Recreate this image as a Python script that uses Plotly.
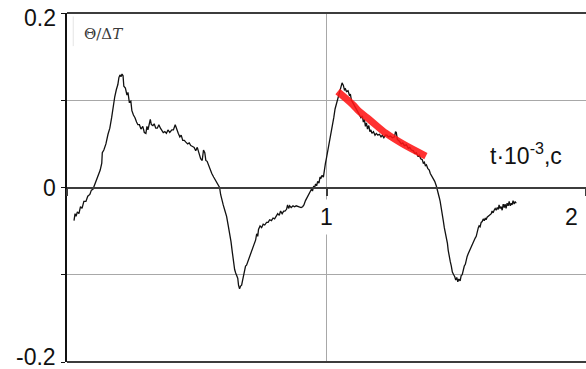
import plotly.graph_objects as go

# ---- data ----
t = [0.027, 0.031, 0.035, 0.040, 0.046, 0.052, 0.058, 0.065, 0.073, 0.080, 0.088, 0.094, 0.100,
     0.108, 0.115, 0.123, 0.128, 0.134, 0.136, 0.142, 0.150, 0.158, 0.165, 0.172, 0.178, 0.184,
     0.190, 0.196, 0.200, 0.204, 0.208, 0.212, 0.216, 0.219, 0.225, 0.231, 0.235, 0.240, 0.246,
     0.250, 0.256, 0.262, 0.268, 0.273, 0.279, 0.285, 0.292, 0.298, 0.304, 0.308, 0.312, 0.317,
     0.321, 0.325, 0.331, 0.336, 0.342, 0.348, 0.354, 0.360, 0.365, 0.371, 0.377, 0.383, 0.389,
     0.396, 0.404, 0.410, 0.417, 0.423, 0.429, 0.435, 0.440, 0.446, 0.452, 0.458, 0.465, 0.471,
     0.477, 0.484, 0.490, 0.496, 0.502, 0.508, 0.515, 0.521, 0.526, 0.531, 0.535, 0.540, 0.546,
     0.552, 0.558, 0.565, 0.571, 0.577, 0.583, 0.588, 0.592, 0.596, 0.602, 0.608, 0.615, 0.621,
     0.627, 0.632, 0.637, 0.642, 0.646, 0.650, 0.654, 0.658, 0.661, 0.665, 0.669, 0.673, 0.677,
     0.683, 0.688, 0.692, 0.698, 0.704, 0.710, 0.715, 0.721, 0.727, 0.731, 0.735, 0.738, 0.744,
     0.750, 0.756, 0.762, 0.769, 0.775, 0.781, 0.788, 0.794, 0.800, 0.806, 0.812, 0.818, 0.823,
     0.829, 0.835, 0.840, 0.846, 0.850, 0.854, 0.858, 0.864, 0.871, 0.877, 0.883, 0.890, 0.896,
     0.902, 0.908, 0.913, 0.919, 0.925, 0.931, 0.937, 0.942, 0.946, 0.950, 0.954, 0.958, 0.962,
     0.966, 0.971, 0.975, 0.979, 0.983, 0.988, 0.992, 0.996, 1.000, 1.004, 1.010, 1.015, 1.019,
     1.023, 1.028, 1.033, 1.038, 1.042, 1.048, 1.054, 1.060, 1.065, 1.069, 1.073, 1.077, 1.083,
     1.088, 1.092, 1.096, 1.102, 1.108, 1.115, 1.121, 1.127, 1.133, 1.138, 1.142, 1.146, 1.150,
     1.154, 1.158, 1.163, 1.167, 1.171, 1.175, 1.181, 1.187, 1.192, 1.198, 1.204, 1.210, 1.215,
     1.221, 1.227, 1.233, 1.238, 1.246, 1.254, 1.262, 1.266, 1.269, 1.273, 1.281, 1.288, 1.294,
     1.300, 1.308, 1.315, 1.321, 1.327, 1.335, 1.340, 1.346, 1.352, 1.358, 1.363, 1.369, 1.373,
     1.377, 1.381, 1.385, 1.390, 1.396, 1.400, 1.404, 1.408, 1.412, 1.417, 1.423, 1.427, 1.431,
     1.435, 1.438, 1.442, 1.446, 1.450, 1.454, 1.458, 1.462, 1.466, 1.469, 1.473, 1.477, 1.481,
     1.485, 1.490, 1.494, 1.498, 1.502, 1.506, 1.510, 1.515, 1.519, 1.523, 1.527, 1.531, 1.535,
     1.538, 1.542, 1.546, 1.550, 1.554, 1.558, 1.562, 1.565, 1.569, 1.573, 1.577, 1.581, 1.585,
     1.588, 1.592, 1.596, 1.600, 1.604, 1.608, 1.612, 1.615, 1.619, 1.623, 1.627, 1.631, 1.635,
     1.638, 1.642, 1.646, 1.650, 1.654, 1.658, 1.662, 1.665, 1.669, 1.673, 1.677, 1.681, 1.685,
     1.688, 1.692, 1.696, 1.700, 1.704, 1.708, 1.712, 1.715, 1.719, 1.723, 1.727, 1.731]

theta = [-0.038, -0.030, -0.033, -0.028, -0.030, -0.022, -0.024, -0.016, -0.016, -0.010, -0.008,
         -0.003, -0.002, 0.004, 0.008, 0.016, 0.020, 0.028, 0.040, 0.043, 0.050, 0.061, 0.068,
         0.080, 0.094, 0.104, 0.112, 0.118, 0.126, 0.129, 0.127, 0.130, 0.128, 0.116, 0.114,
         0.106, 0.109, 0.098, 0.099, 0.088, 0.083, 0.080, 0.075, 0.072, 0.072, 0.067, 0.070,
         0.063, 0.062, 0.070, 0.066, 0.071, 0.078, 0.072, 0.071, 0.073, 0.068, 0.068, 0.072,
         0.068, 0.066, 0.063, 0.064, 0.062, 0.066, 0.063, 0.066, 0.066, 0.072, 0.066, 0.062,
         0.058, 0.060, 0.054, 0.054, 0.052, 0.050, 0.051, 0.048, 0.047, 0.046, 0.042, 0.046,
         0.040, 0.033, 0.031, 0.043, 0.040, 0.031, 0.030, 0.025, 0.020, 0.016, 0.012, 0.009,
         0.006, 0.002, 0.000, -0.008, -0.014, -0.020, -0.026, -0.033, -0.043, -0.052, -0.062,
         -0.074, -0.086, -0.094, -0.098, -0.101, -0.104, -0.112, -0.116, -0.113, -0.112, -0.106,
         -0.097, -0.090, -0.089, -0.084, -0.078, -0.075, -0.070, -0.066, -0.060, -0.053, -0.056,
         -0.048, -0.044, -0.046, -0.042, -0.043, -0.040, -0.040, -0.037, -0.038, -0.035, -0.036,
         -0.033, -0.030, -0.032, -0.027, -0.030, -0.027, -0.027, -0.025, -0.020, -0.024, -0.021,
         -0.023, -0.021, -0.022, -0.021, -0.022, -0.022, -0.023, -0.022, -0.020, -0.015, -0.012,
         -0.008, -0.006, -0.002, -0.004, 0.001, 0.000, 0.004, 0.002, 0.007, 0.005, 0.012, 0.011,
         0.014, 0.012, 0.022, 0.028, 0.034, 0.040, 0.050, 0.058, 0.063, 0.070, 0.080, 0.090,
         0.096, 0.100, 0.106, 0.112, 0.120, 0.117, 0.112, 0.113, 0.110, 0.111, 0.106, 0.107,
         0.100, 0.097, 0.094, 0.090, 0.087, 0.083, 0.080, 0.082, 0.075, 0.078, 0.070, 0.074,
         0.067, 0.071, 0.064, 0.066, 0.062, 0.064, 0.060, 0.062, 0.060, 0.061, 0.058, 0.060,
         0.057, 0.060, 0.060, 0.058, 0.059, 0.057, 0.058, 0.064, 0.063, 0.055, 0.053, 0.050,
         0.051, 0.048, 0.049, 0.045, 0.046, 0.043, 0.042, 0.039, 0.040, 0.036, 0.037, 0.033,
         0.032, 0.028, 0.029, 0.025, 0.026, 0.022, 0.020, 0.016, 0.014, 0.012, 0.009, 0.007,
         0.002, -0.004, -0.008, -0.012, -0.016, -0.022, -0.030, -0.038, -0.046, -0.052, -0.055,
         -0.064, -0.072, -0.080, -0.085, -0.090, -0.097, -0.100, -0.102, -0.106, -0.103, -0.108,
         -0.105, -0.107, -0.101, -0.100, -0.094, -0.090, -0.088, -0.083, -0.079, -0.076, -0.073,
         -0.071, -0.067, -0.066, -0.062, -0.061, -0.058, -0.056, -0.050, -0.046, -0.044, -0.045,
         -0.040, -0.039, -0.036, -0.038, -0.035, -0.037, -0.034, -0.033, -0.032, -0.030, -0.030,
         -0.027, -0.029, -0.026, -0.024, -0.026, -0.023, -0.025, -0.020, -0.024, -0.022, -0.026,
         -0.019, -0.023, -0.019, -0.024, -0.018, -0.021, -0.016, -0.021, -0.018, -0.020, -0.015,
         -0.019, -0.016, -0.018, -0.015]

fit_t = [1.043, 1.101, 1.127, 1.165, 1.230, 1.294, 1.383]
fit_theta = [0.110, 0.095, 0.087, 0.078, 0.062, 0.050, 0.036]

y_tick_vals = [0.2, 0.0, -0.2]
y_tick_text = ["0.2", "0", "-0.2"]
y_grid_vals = [-0.2, -0.1, 0.0, 0.1, 0.2]
x_tick_vals = [1, 2]
x_tick_text = ["1", "2"]
x_title = "t·10<sup>-3</sup>,c"
y_title = "Θ/Δ<i>T</i>"

FONT = "Liberation Sans, Arial, sans-serif"
DARK = "#3c3c3c"
GRID = "#a8a8a8"

fig = go.Figure()
fig.add_trace(go.Scatter(x=t, y=theta, mode="lines",
                         line=dict(color="#111111", width=1.3), showlegend=False))
fig.add_trace(go.Scatter(x=fit_t, y=fit_theta, mode="lines",
                         line=dict(color="rgba(255,20,20,0.88)", width=7, shape="spline"),
                         showlegend=False))

fig.update_layout(
    width=586, height=369,
    margin=dict(l=67, r=0, t=13, b=7),
    paper_bgcolor="white", plot_bgcolor="white",
    xaxis=dict(range=[0, 2], tickvals=[0, 1, 2], showgrid=True, gridcolor=GRID, gridwidth=1,
               zeroline=False, showline=True, linecolor=DARK, linewidth=2,
               anchor="free", position=0.5, ticks="outside", ticklen=7,
               tickcolor=DARK, tickwidth=1.5, showticklabels=False),
    yaxis=dict(range=[-0.2, 0.2], tickvals=y_grid_vals, showgrid=True, gridcolor=GRID,
               gridwidth=1, zeroline=False, showline=True, linecolor="#111111", linewidth=1.5,
               ticks="outside", ticklen=4, tickcolor="#111111", showticklabels=False),
)

# dark top / bottom frame lines
for yp in (0, 1):
    fig.add_shape(type="line", xref="paper", yref="paper", x0=0, x1=1, y0=yp, y1=yp,
                  line=dict(color=DARK, width=2))

# y tick labels
for v, txt in zip(y_tick_vals, y_tick_text):
    shift = -5 if v > 0 else (5 if v < 0 else 0)
    fig.add_annotation(x=0, xref="paper", y=v, yref="y", text=txt, showarrow=False,
                       xanchor="right", yanchor="middle", xshift=-9, yshift=shift,
                       font=dict(family=FONT, size=23, color="#111111"))

# x tick labels (on the zero line)
for v, txt in zip(x_tick_vals, x_tick_text):
    last = v == x_tick_vals[-1]
    fig.add_annotation(x=v, xref="x", y=0, yref="y", text=txt, showarrow=False,
                       xanchor="right" if last else "center", yanchor="top",
                       xshift=-3 if last else 0, yshift=-11,
                       bgcolor="rgba(255,255,255,0)" if last else "white", borderpad=4,
                       font=dict(family=FONT, size=23, color="#111111"))

# axis titles
fig.add_annotation(x=1.77, xref="x", y=0.038, yref="y", text=x_title, showarrow=False,
                   xanchor="center", yanchor="middle",
                   font=dict(family=FONT, size=23, color="#111111"))
fig.add_annotation(x=0, xref="paper", y=1, yref="paper", text=y_title, showarrow=False,
                   xanchor="left", yanchor="top", xshift=15, yshift=-10,
                   font=dict(family="DejaVu Serif, serif", size=15, color="#3a3a3a"))
fig.add_shape(type="line", xref="paper", yref="paper", x0=0.012, x1=0.012, y0=0.905, y1=0.99,
              line=dict(color="#e4e4e4", width=1))

fig.write_html("out.html", config={"displayModeBar": False},
               post_script="document.body.style.margin='0';document.body.style.padding='0';")
